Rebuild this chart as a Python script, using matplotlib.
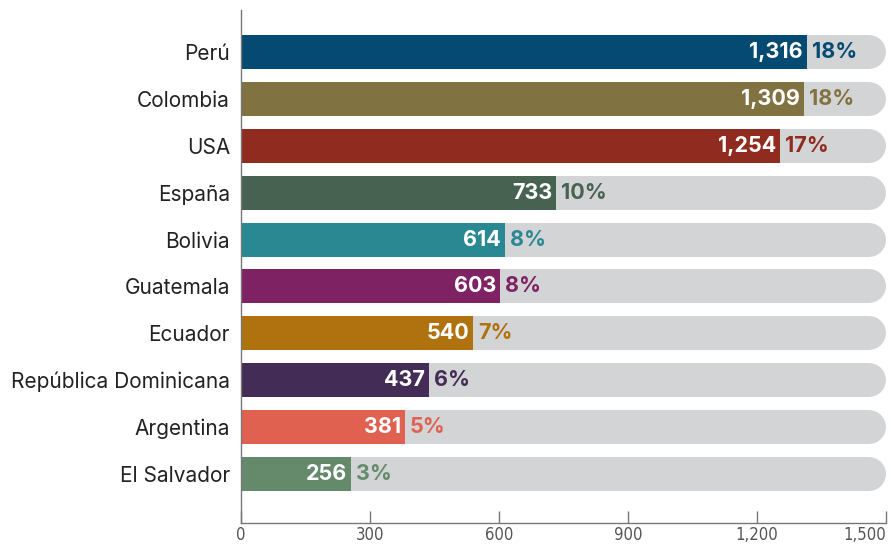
import matplotlib
matplotlib.use("Agg")
import matplotlib.pyplot as plt
from matplotlib.ticker import FuncFormatter

countries = ["Perú", "Colombia", "USA", "España", "Bolivia", "Guatemala", "Ecuador",
             "República Dominicana", "Argentina", "El Salvador"]
values = [1316, 1309, 1254, 733, 614, 603, 540, 437, 381, 256]
shares = [18, 18, 17, 10, 8, 8, 7, 6, 5, 3]
colors = ["#054a72", "#817341", "#8f2c1f", "#476250", "#2a8893", "#7e2263",
          "#b0720e", "#432c55", "#e06150", "#648a6b"]
xticks = [0, 300, 600, 900, 1200, 1500]
xmax = 1500

plt.rcParams['font.family'] = ['Inter', 'DejaVu Sans']

fig = plt.figure(figsize=(8.91, 5.46), dpi=100)
W, H = 891, 546
top_px, bot_px, left_px, right_px = 10, 523, 241, 886
ax = fig.add_axes([left_px / W, 1 - bot_px / H, (right_px - left_px) / W, (bot_px - top_px) / H])

n = len(countries)
ypos = list(range(n))
y_top, y_bot = -0.895, 9 + (bot_px - 474) / 46.9
ax.set_xlim(0, xmax)
ax.set_ylim(y_bot, y_top)
bar_h = 0.725

# background track with rounded right end
px_per_unit_y = (bot_px - top_px) / (y_bot - y_top)
lw_pt = bar_h * px_per_unit_y * 72 / 100
px_per_unit_x = (right_px - left_px) / xmax
r_units = bar_h * px_per_unit_y / 2 / px_per_unit_x
for y in ypos:
    ax.plot([0, xmax - r_units], [y, y], color="#d3d4d6", lw=lw_pt,
            solid_capstyle="round", zorder=1)

ax.barh(ypos, values, height=bar_h, color=colors, zorder=2)

for y, v, s, c in zip(ypos, values, shares, colors):
    ax.text(v - 9, y, f"{v:,}", ha="right", va="center", color="white",
            fontsize=15.5, fontweight="bold", zorder=3)
    ax.text(v + 12, y, f"{s}%", ha="left", va="center", color=c,
            fontsize=15.5, fontweight="bold", zorder=3)

ax.set_yticks(ypos)
ax.set_yticklabels(countries, fontsize=15, color="#222222")
ax.tick_params(axis="y", length=0, pad=8)

ax.set_xticks(xticks)
ax.xaxis.set_major_formatter(FuncFormatter(lambda x, p: f"{int(x):,}"))
ax.tick_params(axis="x", direction="in", length=8.5, width=1, color="#777777",
               pad=2)
for lab in ax.get_xticklabels():
    lab.set_fontfamily("DejaVu Sans")
    lab.set_fontstretch("condensed")
    lab.set_fontsize(12)
    lab.set_color("#555555")
ax.get_xticklabels()[-1].set_horizontalalignment("right")

for s in ["top", "right"]:
    ax.spines[s].set_visible(False)
for s in ["left", "bottom"]:
    ax.spines[s].set_color("#777777")
    ax.spines[s].set_linewidth(1)
    ax.spines[s].set_zorder(4)

fig.savefig("out.png", dpi=100)
